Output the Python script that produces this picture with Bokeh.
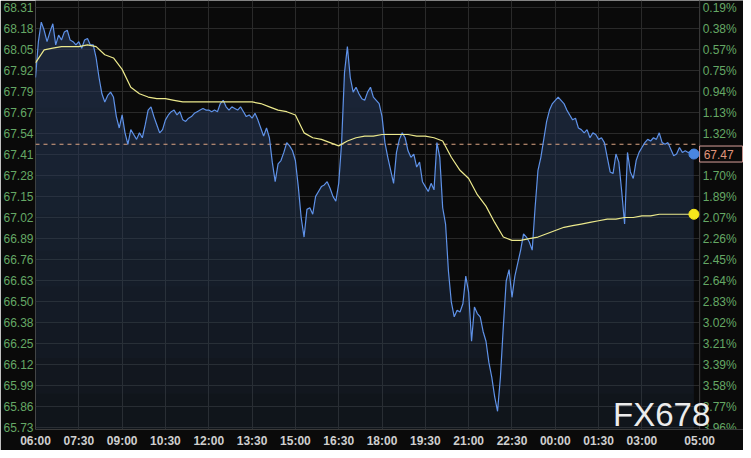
import numpy as np
from bokeh.plotting import figure
from bokeh.models import Range1d, FixedTicker
from bokeh.core.properties import value
from bokeh.embed import file_html
from bokeh.resources import INLINE

# ---- data ----
# crude oil price, one value every 6 minutes starting 06:00
price = [
    67.88, 68.10, 68.22, 68.17, 68.10, 68.16, 68.21, 68.08, 68.14, 68.11,
    68.16, 68.17, 68.11, 68.10, 68.08, 68.10, 68.06, 68.11, 68.12, 68.08,
    68.08, 68.00, 67.88, 67.78, 67.73, 67.77, 67.79, 67.76, 67.64, 67.57,
    67.65, 67.54, 67.47, 67.56, 67.53, 67.50, 67.54, 67.51, 67.59, 67.68,
    67.70, 67.64, 67.59, 67.54, 67.56, 67.62, 67.65, 67.67, 67.68, 67.65,
    67.67, 67.62, 67.61, 67.63, 67.64, 67.66, 67.67, 67.68, 67.69, 67.68,
    67.68, 67.67, 67.68, 67.67, 67.72, 67.74, 67.70, 67.68, 67.70, 67.69,
    67.68, 67.70, 67.67, 67.64, 67.65, 67.63, 67.66, 67.62, 67.57, 67.52,
    67.57, 67.51, 67.36, 67.24, 67.35, 67.37, 67.42, 67.48, 67.46, 67.43,
    67.37, 67.21, 67.02, 66.90, 67.07, 67.08, 67.04, 67.15, 67.18, 67.21,
    67.22, 67.24, 67.20, 67.15, 67.12, 67.23, 67.48, 67.91, 68.07, 67.88,
    67.79, 67.82, 67.78, 67.75, 67.74, 67.79, 67.82, 67.76, 67.74, 67.72,
    67.64, 67.48, 67.39, 67.31, 67.23, 67.42, 67.50, 67.54, 67.51, 67.43,
    67.39, 67.41, 67.33, 67.36, 67.24, 67.21, 67.18, 67.23, 67.19, 67.48,
    67.39, 67.08, 66.98, 66.69, 66.50, 66.41, 66.45, 66.44, 66.49, 66.66,
    66.56, 66.26, 66.47, 66.43, 66.41, 66.32, 66.26, 66.13, 66.04, 65.92,
    65.83, 66.04, 66.35, 66.63, 66.70, 66.53, 66.66, 66.74, 66.82, 66.92,
    66.90, 66.87, 66.82, 67.08, 67.31, 67.39, 67.50, 67.61, 67.68, 67.72,
    67.74, 67.76, 67.74, 67.72, 67.68, 67.65, 67.62, 67.63, 67.57, 67.56,
    67.54, 67.56, 67.51, 67.54, 67.53, 67.50, 67.51, 67.48, 67.39, 67.30,
    67.29, 67.41, 67.36, 67.18, 66.98, 67.42, 67.30, 67.26, 67.37, 67.42,
    67.45, 67.48, 67.50, 67.49, 67.51, 67.50, 67.54, 67.48, 67.47, 67.48,
    67.44, 67.40, 67.41, 67.45, 67.42, 67.43, 67.42, 67.42, 67.41,
]
PRICE_STEP_H = 0.1

# average price line, one value every 18 minutes starting 06:00
avg_price = [
    67.97, 68.05, 68.06, 68.07, 68.07, 68.07, 68.08, 68.07, 68.02, 68.00,
    67.93, 67.82, 67.78, 67.76, 67.75, 67.75, 67.74, 67.73, 67.73, 67.73,
    67.73, 67.73, 67.73, 67.73, 67.73, 67.73, 67.72, 67.70, 67.68, 67.67,
    67.65, 67.54, 67.51, 67.50, 67.48, 67.46, 67.49, 67.51, 67.52, 67.52,
    67.53, 67.53, 67.53, 67.53, 67.52, 67.52, 67.51, 67.49, 67.39, 67.31,
    67.26, 67.16, 67.09, 66.99, 66.90, 66.88, 66.88, 66.89, 66.90, 66.92,
    66.94, 66.96, 66.97, 66.98, 66.99, 67.00, 67.01, 67.01, 67.02, 67.02,
    67.03, 67.03, 67.04, 67.04, 67.04, 67.04, 67.04,
]
AVG_STEP_H = 0.3

ref_price = 67.47
last_price_label = "67.47"

time_tick_hours = [0, 1.5, 3, 4.5, 6, 7.5, 9, 10.5, 12, 13.5, 15, 16.5, 18, 19.5, 21, 23]
time_tick_labels = ["06:00", "07:30", "09:00", "10:30", "12:00", "13:30", "15:00", "16:30",
                    "18:00", "19:30", "21:00", "22:30", "00:00", "01:30", "03:00", "05:00"]

price_tick_labels = ["68.31", "68.18", "68.05", "67.92", "67.79", "67.67", "67.54",
                     "67.41", "67.28", "67.15", "67.02", "66.89", "66.76", "66.63",
                     "66.50", "66.38", "66.25", "66.12", "65.99", "65.86", "65.73"]
pct_tick_labels = ["0.19%", "0.38%", "0.57%", "0.75%", "0.94%", "1.13%", "1.32%",
                   "1.51%", "1.70%", "1.89%", "2.07%", "2.26%", "2.45%", "2.64%",
                   "2.83%", "3.02%", "3.21%", "3.39%", "3.58%", "3.77%", "3.96%"]
hidden_pct = "1.51%"   # covered by the last-price box

# ---- build ----
PX_PER_H = 29.0
T_END = 23.0                       # 05:00 next day, right edge of the chart area
X_MAX = T_END + 44 / PX_PER_H      # extra room on the right for the % scale
t = np.arange(len(price)) * PRICE_STEP_H
ta = np.arange(len(avg_price)) * AVG_STEP_H
pr = np.array(price)

Y_LO, Y_HI = 65.718, 68.353
tick_pos = [round(v, 6) for v in np.linspace(68.31, 65.73, len(price_tick_labels))]

BG = "#0a0a0a"
GREEN = "#65a865"
GRID = "#2a2a2a"
FONT = "Liberation Sans"

p = figure(width=743, height=450, x_range=Range1d(0, X_MAX), y_range=Range1d(Y_LO, Y_HI),
           output_backend="svg", toolbar_location=None,
           background_fill_color=BG, border_fill_color=BG,
           min_border_left=32, min_border_right=0, min_border_top=0, min_border_bottom=20)
p.outline_line_color = None

# grid: vertical lines from the time axis, horizontal lines only over the chart area
p.xgrid.ticker = FixedTicker(ticks=time_tick_hours)
p.xgrid.grid_line_color = GRID
p.ygrid.grid_line_color = None
p.segment(x0=[0] * len(tick_pos), x1=[T_END] * len(tick_pos), y0=tick_pos, y1=tick_pos,
          line_color=GRID, line_width=1)
p.segment(x0=[T_END], x1=[T_END], y0=[Y_LO], y1=[Y_HI], line_color="#3a3a3a", line_width=1)

# gradient fill under the price line
edges = np.linspace(Y_LO, Y_HI, 13)
for k in range(12):
    a = 0.2 if k == 0 else 0.062
    p.varea(x=t, y1=np.full_like(pr, edges[k]), y2=np.maximum(pr, edges[k]),
            fill_color="#2a3f5f", fill_alpha=a)

p.segment(x0=[0], x1=[T_END], y0=[ref_price], y1=[ref_price], line_color="#dca584",
          line_dash="4 4", line_width=1)

p.line(t, pr, line_color="#5f92e8", line_width=1.2)
p.line(ta, avg_price, line_color="#ece98c", line_width=1.2)

# percentage scale on the right
r_pos = [v for v, s in zip(tick_pos, pct_tick_labels) if s != hidden_pct]
r_lab = [s for s in pct_tick_labels if s != hidden_pct]
p.text(x=[T_END] * len(r_pos), y=r_pos, text=r_lab, x_offset=3,
       text_align="left", text_baseline="middle", text_color=GREEN,
       text_font=value(FONT), text_font_size="12px")

# last price box (43 px wide, starting at the right edge of the chart area)
p.rect(x=[T_END + 21.5 / PX_PER_H], y=[price[-1]], width=43, height=16, width_units="screen",
       height_units="screen", fill_color=BG, line_color="#d9a09a", line_width=1)
p.text(x=[T_END], y=[price[-1]], text=[last_price_label], x_offset=4,
       text_align="left", text_baseline="middle", text_color="#e0957c",
       text_font=value(FONT), text_font_size="12px")

p.scatter([t[-1]], [price[-1]], size=10, fill_color="#4a86e0", line_color="#4a86e0")
p.scatter([ta[-1]], [avg_price[-1]], size=10, fill_color="#f7e81c", line_color="#f7e81c")

# watermark
p.text(x=[20.0], y=[65.736], text=["FX678"], text_align="left", y_offset=-12,
       text_baseline="alphabetic", text_color="#ececec",
       text_font=value(FONT), text_font_size="33px")

# axes
xa = p.xaxis[0]
xa.ticker = FixedTicker(ticks=time_tick_hours)
xa.major_label_overrides = {h: s for h, s in zip(time_tick_hours, time_tick_labels)}
xa.major_label_text_color = "#cfcfcf"
xa.major_label_text_font_style = "bold"
xa.major_label_text_font_size = "12px"
xa.major_label_text_font = FONT
xa.major_tick_in = 0
xa.major_tick_out = 0
xa.minor_tick_line_color = None
xa.major_tick_line_color = None
xa.axis_line_color = "#3a3a3a"
xa.major_label_standoff = 4

ya = p.yaxis[0]
ya.ticker = FixedTicker(ticks=tick_pos)
ya.major_label_overrides = {v: s for v, s in zip(tick_pos, price_tick_labels)}
ya.major_label_text_color = GREEN
ya.major_label_text_font_size = "12px"
ya.major_label_text_font = FONT
ya.major_tick_in = 0
ya.major_tick_out = 0
ya.major_tick_line_color = None
ya.minor_tick_line_color = None
ya.axis_line_color = None
ya.major_label_standoff = 2

open("out.html", "w").write(file_html(p, INLINE, title="chart"))
